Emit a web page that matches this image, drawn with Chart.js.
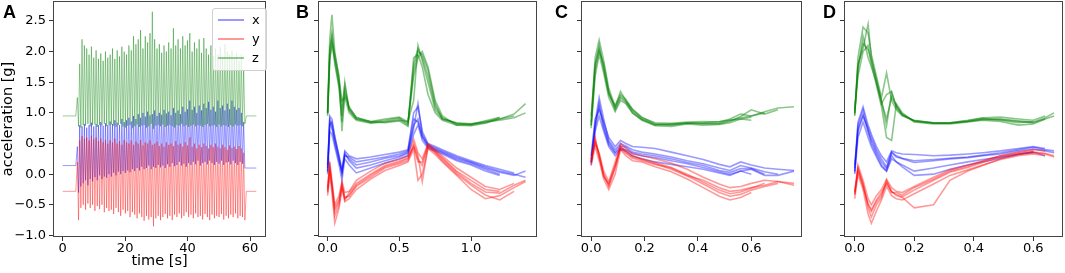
<!DOCTYPE html>
<html>
<head>
<meta charset="utf-8">
<script src="https://cdn.jsdelivr.net/npm/chart.js@4.4.1/dist/chart.umd.min.js"></script>
<style>
  html, body { margin: 0; padding: 0; background: #fff; }
  #wrap { position: relative; width: 1065px; height: 273px; overflow: hidden; }
  .pane { position: absolute; top: 0; }
  .tag { position: absolute; top: 3px; font: bold 18px/18px "Liberation Sans", Arial, sans-serif; color: #000; }
  #legendA { position: absolute; left: 212px; top: 8px; width: 53px; height: 61px; border: 1px solid #d0d0d0; border-radius: 3px; background: rgba(255,255,255,0.8); }
  .leg-row { position: absolute; left: 0; width: 100%; height: 18px; }
  .leg-line { position: absolute; left: 5px; top: 8px; width: 26px; height: 2px; }
  .leg-text { position: absolute; left: 39px; top: 0; font: 13px/18px "DejaVu Sans", sans-serif; color: #000; }
</style>
</head>
<body>
<div id="wrap">
  <canvas id="chartA" class="pane" width="270" height="273" style="left:0px"></canvas>
  <canvas id="chartB" class="pane" width="272" height="273" style="left:270px"></canvas>
  <canvas id="chartC" class="pane" width="265" height="273" style="left:542px"></canvas>
  <canvas id="chartD" class="pane" width="258" height="273" style="left:807px"></canvas>
  <div class="tag" style="left:3px">A</div>
  <div class="tag" style="left:296px">B</div>
  <div class="tag" style="left:555px">C</div>
  <div class="tag" style="left:823px">D</div>
  <div id="legendA"></div>
</div>
<script>
// ---- panel A: raw recording, one peak/trough pair per step ----
const stepStart = 4.7;
const stepPeriod = 0.75;
const seriesNames = ["x", "y", "z"];
const baseBefore = { x: 0.14, y: -0.28, z: 0.95 };
const baseAfter = { x: 0.10, y: -0.28, z: 0.95 };

const zPeak = [
  1.25, 1.8, 2.2, 2.1, 2.05, 1.95, 2.08, 1.9, 2.02, 1.88, 1.97, 1.85,
  2.0, 1.9, 1.95, 2.05, 1.88, 2.02, 1.92, 2.08, 2.0, 1.95, 2.1, 2.02,
  2.25, 2.12, 2.2, 2.35, 2.05, 2.25, 2.15, 2.3, 2.65, 2.2, 2.05, 2.12,
  1.98, 2.1, 2.0, 2.15, 2.05, 2.38, 2.1, 2.2, 2.05, 2.25, 2.1, 2.18,
  2.3, 2.0, 2.15, 2.05, 2.2, 1.98, 2.22, 2.05, 1.95, 2.1, 1.92, 2.05,
  1.95, 2.08, 1.9, 2.12, 2.0, 1.95, 2.02, 1.9, 1.98, 1.85, 1.95, 1.7
];
const zTrough = [
  0.78, 0.76, 0.8, 0.79, 0.82, 0.78, 0.8, 0.81, 0.77, 0.8, 0.79, 0.82,
  0.78, 0.8, 0.81, 0.79, 0.77, 0.8, 0.82, 0.78, 0.76, 0.79, 0.8, 0.75,
  0.78, 0.81, 0.77, 0.79, 0.8, 0.76, 0.78, 0.82, 0.74, 0.79, 0.8, 0.78,
  0.81, 0.77, 0.79, 0.8, 0.78, 0.76, 0.8, 0.79, 0.82, 0.78, 0.8, 0.77,
  0.79, 0.81, 0.78, 0.8, 0.79, 0.77, 0.8, 0.82, 0.78, 0.79, 0.8, 0.77,
  0.81, 0.78, 0.8, 0.79, 0.77, 0.8, 0.78, 0.81, 0.79, 0.8, 0.78, 0.82
];
const xPeak = [
  0.45, 0.8, 0.78, 0.82, 0.76, 0.8, 0.84, 0.78, 0.82, 0.8, 0.85, 0.79,
  0.83, 0.8, 0.86, 0.82, 0.88, 0.84, 0.8, 0.9, 0.85, 0.88, 0.92, 0.86,
  0.95, 0.9, 0.98, 0.92, 1.0, 0.94, 1.02, 0.96, 0.98, 1.04, 0.95, 1.0,
  0.97, 1.05, 0.99, 1.02, 0.96, 1.08, 1.0, 1.04, 0.98, 1.1, 1.02, 1.06,
  1.2, 1.05, 1.1, 1.0, 1.12, 1.04, 1.15, 1.08, 1.18, 1.05, 1.1, 1.02,
  1.2, 1.08, 1.12, 1.04, 1.15, 1.06, 1.2, 1.1, 1.05, 1.08, 1.0, 0.85
];
const xTrough = [
  -0.3, -0.2, -0.15, -0.1, -0.18, -0.08, -0.12, -0.05, -0.1, -0.02, -0.08, -0.04,
  -0.06, 0.0, -0.04, 0.02, -0.02, 0.04, 0.0, 0.05, 0.02, 0.06, 0.03, 0.08,
  0.05, 0.1, 0.06, 0.12, 0.08, 0.1, 0.14, 0.08, 0.12, 0.1, 0.15, 0.11,
  0.14, 0.1, 0.16, 0.12, 0.18, 0.13, 0.15, 0.2, 0.14, 0.17, 0.12, 0.18,
  0.15, 0.2, 0.16, 0.22, 0.14, 0.18, 0.2, 0.16, 0.22, 0.18, 0.15, 0.2,
  0.17, 0.22, 0.15, 0.19, 0.2, 0.16, 0.22, 0.18, 0.15, 0.2, 0.17, 0.1
];
const yPeak = [
  0.2, 0.55, 0.62, 0.58, 0.6, 0.55, 0.63, 0.57, 0.6, 0.54, 0.58, 0.52,
  0.56, 0.5, 0.55, 0.52, 0.58, 0.5, 0.54, 0.48, 0.56, 0.52, 0.5, 0.55,
  0.48, 0.53, 0.5, 0.56, 0.47, 0.52, 0.5, 0.55, 0.48, 0.5, 0.53, 0.46,
  0.5, 0.45, 0.52, 0.48, 0.5, 0.46, 0.54, 0.48, 0.5, 0.45, 0.52, 0.47,
  0.6, 0.45, 0.5, 0.42, 0.48, 0.44, 0.5, 0.46, 0.42, 0.48, 0.44, 0.5,
  0.45, 0.42, 0.48, 0.44, 0.4, 0.47, 0.43, 0.45, 0.41, 0.46, 0.42, 0.35
];
const yTrough = [
  -0.75, -0.55, -0.5, -0.58, -0.48, -0.55, -0.5, -0.6, -0.52, -0.57, -0.5, -0.62,
  -0.55, -0.6, -0.58, -0.65, -0.55, -0.62, -0.68, -0.58, -0.64, -0.6, -0.7, -0.62,
  -0.66, -0.72, -0.64, -0.7, -0.76, -0.68, -0.74, -0.7, -0.85, -0.72, -0.68, -0.75,
  -0.7, -0.65, -0.72, -0.68, -0.75, -0.66, -0.7, -0.64, -0.72, -0.68, -0.62, -0.7,
  -0.66, -0.72, -0.64, -0.7, -0.68, -0.74, -0.65, -0.7, -0.75, -0.66, -0.72, -0.68,
  -0.7, -0.65, -0.74, -0.68, -0.72, -0.66, -0.7, -0.64, -0.72, -0.68, -0.7, -0.75
];

// ---- panel B: segmented strides, shared time grid [s] ----
const tB = [0, 0.015, 0.03, 0.05, 0.08, 0.1, 0.12, 0.15, 0.2, 0.3, 0.4, 0.5, 0.56,
  0.6, 0.63, 0.66, 0.7, 0.75, 0.8, 0.9, 1.0, 1.1, 1.2, 1.3, 1.38];
const zB = [
  [1.0, 2.0, 2.3, 1.9, 1.5, 1.1, 1.45, 1.05, 0.9, 0.84, 0.86, 0.9, 0.8, 1.8, 2.05, 1.9, 1.6, 1.1, 0.92, 0.82, 0.8, 0.85, 0.88, 0.92, 1.0],
  [0.95, 1.85, 2.15, 1.95, 1.6, 0.7, 1.3, 1.1, 0.92, 0.85, 0.88, 0.92, 0.82, 1.6, 1.9, 2.0, 1.75, 1.2, 0.95, 0.8, 0.82, 0.86, 0.9, 0.95],
  [1.02, 2.2, 2.6, 2.0, 1.55, 1.2, 1.25, 1.0, 0.88, 0.83, 0.85, 0.88, 0.86, 1.2, 2.1, 1.85, 1.5, 1.05, 0.9, 0.84, 0.82, 0.84, 0.92],
  [0.98, 1.9, 2.1, 1.85, 1.45, 0.95, 1.5, 1.05, 0.9, 0.86, 0.84, 0.87, 0.78, 1.9, 1.95, 1.75, 1.3, 1.0, 0.88, 0.8, 0.79, 0.83, 0.9, 0.98, 1.15],
  [1.0, 2.05, 2.25, 1.8, 1.4, 0.85, 1.35, 1.08, 0.93, 0.86, 0.9, 0.93, 0.85, 1.7, 2.0, 1.95, 1.7, 1.15, 0.9, 0.83, 0.81, 0.87, 0.93]
];
const xB = [
  [0.03, 0.85, 0.75, 0.55, 0.25, 0.03, 0.32, 0.25, 0.15, 0.2, 0.26, 0.3, 0.36, 0.8, 0.9, 0.62, 0.46, 0.41, 0.36, 0.26, 0.19, 0.1, 0.03, -0.02, 0.05],
  [0.1, 0.95, 0.9, 0.6, 0.3, 0.08, 0.38, 0.3, 0.25, 0.28, 0.32, 0.36, 0.4, 1.0, 1.1, 0.7, 0.5, 0.45, 0.4, 0.3, 0.22, 0.14, 0.08, 0.02],
  [0.0, 0.7, 0.65, 0.45, 0.15, -0.1, 0.25, 0.15, 0.02, 0.1, 0.18, 0.25, 0.3, 0.65, 0.8, 0.55, 0.42, 0.38, 0.33, 0.22, 0.15, 0.05, -0.02],
  [0.15, 0.8, 0.85, 0.62, 0.28, 0.0, 0.35, 0.22, 0.1, 0.15, 0.22, 0.28, 0.34, 0.75, 1.15, 0.65, 0.48, 0.43, 0.38, 0.28, 0.2, 0.12, 0.05, 0.0, -0.05],
  [0.05, 0.9, 0.8, 0.5, 0.2, 0.05, 0.3, 0.28, 0.2, 0.24, 0.28, 0.33, 0.38, 0.9, 0.85, 0.6, 0.45, 0.4, 0.35, 0.24, 0.17, 0.08, 0.0]
];
const yB = [
  [-0.28, 0.1, -0.18, -0.6, -0.45, -0.18, -0.4, -0.34, -0.18, -0.02, 0.12, 0.19, 0.25, 0.46, 0.25, 0.14, 0.46, 0.36, 0.25, 0.03, -0.15, -0.29, -0.31, -0.18, -0.1],
  [-0.22, 0.2, -0.1, -0.5, -0.35, -0.12, -0.3, -0.28, -0.1, 0.05, 0.18, 0.24, 0.3, 0.57, 0.35, 0.25, 0.5, 0.4, 0.3, 0.1, -0.05, -0.2, -0.25, -0.15],
  [-0.35, 0.0, -0.3, -0.8, -0.55, -0.25, -0.45, -0.4, -0.25, -0.08, 0.06, 0.14, 0.2, 0.4, -0.1, 0.0, 0.42, 0.32, 0.2, -0.02, -0.25, -0.4, -0.35, -0.22, -0.12],
  [-0.3, 0.08, -0.2, -0.68, -0.5, -0.2, -0.38, -0.36, -0.2, -0.05, 0.1, 0.17, 0.22, 0.5, 0.3, -0.12, 0.44, 0.35, 0.22, 0.0, -0.18, -0.34, -0.42, -0.28],
  [-0.25, 0.15, -0.15, -0.55, -0.42, -0.15, -0.42, -0.3, -0.15, 0.0, 0.14, 0.21, 0.27, 0.44, 0.2, 0.2, 0.48, 0.38, 0.27, 0.05, -0.1, -0.25, -0.28]
];

// ---- panel C ----
const tC = [0, 0.015, 0.03, 0.047, 0.066, 0.09, 0.11, 0.13, 0.155, 0.19, 0.24,
  0.3, 0.36, 0.42, 0.48, 0.52, 0.56, 0.6, 0.65, 0.7, 0.76];
const zC = [
  [0.79, 1.76, 2.1, 1.7, 1.33, 1.08, 1.27, 1.19, 1.03, 0.9, 0.8, 0.81, 0.84, 0.83, 0.83, 0.88, 0.92, 0.95, 1.0],
  [0.85, 1.9, 2.19, 1.85, 1.4, 1.1, 1.35, 1.2, 1.05, 0.92, 0.84, 0.83, 0.85, 0.86, 0.85, 0.9, 0.98, 0.95, 1.02, 1.08, 1.1],
  [0.75, 1.6, 1.95, 1.65, 1.25, 1.02, 1.2, 1.15, 1.0, 0.88, 0.79, 0.78, 0.82, 0.8, 0.81, 0.84, 0.9, 0.88],
  [0.95, 1.8, 2.05, 1.75, 1.3, 1.12, 1.3, 1.22, 1.06, 0.93, 0.82, 0.8, 0.83, 0.82, 0.82, 0.86, 0.94, 1.05, 0.98, 1.05],
  [0.8, 1.7, 2.0, 1.8, 1.35, 1.05, 1.24, 1.17, 1.0, 0.89, 0.81, 0.82, 0.83, 0.84, 0.86, 0.88, 0.9, 0.93]
];
const xC = [
  [0.2, 0.79, 1.16, 0.79, 0.52, 0.36, 0.46, 0.44, 0.36, 0.33, 0.3, 0.25, 0.19, 0.14, 0.06, 0.03, 0.09, 0.09, 0.0],
  [0.3, 0.9, 1.05, 0.85, 0.6, 0.45, 0.55, 0.5, 0.45, 0.44, 0.42, 0.36, 0.3, 0.24, 0.16, 0.12, 0.2, 0.15, 0.1, 0.08, 0.06],
  [0.15, 0.7, 0.95, 0.7, 0.45, 0.3, 0.4, 0.38, 0.3, 0.25, 0.2, 0.16, 0.12, 0.08, 0.02, -0.02, 0.05, 0.0],
  [0.25, 0.85, 1.25, 0.9, 0.55, 0.4, 0.5, 0.46, 0.4, 0.36, 0.33, 0.28, 0.22, 0.17, 0.1, 0.06, 0.14, 0.1, 0.04, 0.0],
  [0.18, 0.75, 1.1, 0.75, 0.48, 0.34, 0.42, 0.4, 0.34, 0.3, 0.27, 0.22, 0.17, 0.11, 0.04, 0.0, 0.05, 0.08, -0.02, -0.02, 0.05]
];
const yC = [
  [0.2, 0.57, 0.3, -0.02, -0.18, 0.1, 0.46, 0.36, 0.28, 0.25, 0.19, 0.11, 0.0, -0.13, -0.26, -0.32, -0.29, -0.23, -0.15],
  [0.25, 0.5, 0.35, 0.05, -0.12, 0.2, 0.5, 0.42, 0.33, 0.3, 0.25, 0.18, 0.08, -0.05, -0.16, -0.22, -0.2, -0.15, -0.1, -0.12, -0.15],
  [0.14, 0.45, 0.22, -0.08, -0.25, 0.0, 0.4, 0.3, 0.22, 0.2, 0.12, 0.04, -0.08, -0.22, -0.36, -0.42, -0.38, -0.3],
  [0.18, 0.6, 0.28, 0.0, -0.2, 0.12, 0.44, 0.38, 0.3, 0.24, 0.17, 0.08, -0.03, -0.16, -0.3, -0.36, -0.33, -0.26, -0.2, -0.15],
  [0.22, 0.52, 0.32, -0.05, -0.15, 0.15, 0.42, 0.34, 0.26, 0.22, 0.16, 0.1, -0.02, -0.1, -0.22, -0.28, -0.26, -0.22, -0.18, -0.12, -0.18]
];

// ---- panel D ----
const tD = [0, 0.011, 0.028, 0.045, 0.056, 0.073, 0.09, 0.107, 0.124, 0.14, 0.16,
  0.2, 0.265, 0.32, 0.38, 0.43, 0.49, 0.55, 0.6, 0.64, 0.67];
const zD = [
  [1.0, 1.76, 2.13, 2.03, 1.85, 1.55, 1.2, 0.79, 1.33, 1.11, 0.97, 0.86, 0.83, 0.83, 0.86, 0.89, 0.89, 0.86, 0.84, 0.9, 0.95],
  [0.95, 1.9, 2.4, 2.3, 1.95, 1.6, 1.25, 1.65, 1.2, 1.05, 0.95, 0.88, 0.84, 0.84, 0.88, 0.92, 0.93, 0.9, 0.88, 0.95],
  [1.05, 1.6, 2.0, 2.1, 1.8, 1.45, 1.1, 0.6, 0.55, 1.15, 1.0, 0.85, 0.82, 0.82, 0.85, 0.88, 0.86, 0.8, 0.82, 0.9],
  [0.97, 1.7, 2.25, 1.9, 1.75, 1.5, 1.15, 1.3, 1.35, 1.08, 0.96, 0.87, 0.84, 0.83, 0.86, 0.9, 0.9, 0.87, 0.85, 0.92, 1.0],
  [1.0, 1.8, 2.05, 2.45, 1.9, 1.5, 1.18, 0.9, 1.25, 1.12, 0.98, 0.87, 0.83, 0.84, 0.87, 0.91, 0.88, 0.84, 0.86]
];
const xD = [
  [0.03, 0.74, 0.97, 0.68, 0.55, 0.36, 0.2, 0.09, 0.35, 0.28, 0.25, 0.19, 0.22, 0.25, 0.27, 0.3, 0.33, 0.38, 0.41, 0.38, 0.35],
  [0.1, 0.85, 1.1, 0.8, 0.65, 0.45, 0.3, 0.2, 0.38, 0.35, 0.33, 0.32, 0.3, 0.31, 0.33, 0.35, 0.38, 0.42, 0.45, 0.42],
  [0.0, 0.6, 0.85, 0.6, 0.45, 0.28, 0.12, 0.05, 0.3, 0.2, 0.15, 0.05, 0.1, 0.15, 0.2, 0.24, 0.28, 0.33, 0.36, 0.3],
  [0.15, 0.7, 0.95, 0.75, 0.6, 0.4, 0.25, 0.12, 0.36, 0.3, 0.26, 0.22, 0.24, 0.26, 0.28, 0.31, 0.35, 0.4, 0.44, 0.4, 0.38],
  [0.05, 0.8, 1.05, 0.72, 0.5, 0.32, 0.15, 0.05, 0.25, 0.2, 0.12, -0.02, 0.0, 0.08, 0.15, 0.2, 0.26, 0.32, 0.36]
];
const yD = [
  [-0.34, 0.09, -0.18, -0.5, -0.61, -0.45, -0.34, -0.13, -0.29, -0.33, -0.37, -0.26, -0.1, 0.03, 0.11, 0.19, 0.28, 0.33, 0.36, 0.34, 0.3],
  [-0.28, 0.15, -0.1, -0.4, -0.5, -0.35, -0.25, -0.08, -0.22, -0.28, -0.3, -0.2, -0.05, 0.07, 0.15, 0.22, 0.3, 0.36, 0.4, 0.38],
  [-0.4, 0.0, -0.25, -0.65, -0.8, -0.6, -0.42, -0.2, -0.35, -0.4, -0.42, -0.32, -0.16, -0.02, 0.07, 0.15, 0.24, 0.3, 0.33, 0.3],
  [-0.32, 0.1, -0.15, -0.55, -0.7, -0.5, -0.38, -0.1, -0.28, -0.35, -0.38, -0.55, -0.5, -0.1, 0.05, 0.14, 0.25, 0.32, 0.35, 0.33, 0.28],
  [-0.3, 0.05, -0.2, -0.48, -0.58, -0.42, -0.3, -0.15, -0.3, -0.3, -0.34, -0.22, -0.08, 0.05, 0.13, 0.21, 0.3, 0.35, 0.38]
];

const rgb = { x: "0, 0, 255", y: "255, 0, 0", z: "0, 128, 0" };
const FONT = '"DejaVu Sans", sans-serif';

function fmtMinus(v, digits) {
    const s = Math.abs(v).toFixed(digits);
    return (v < -1e-9 ? "\u2212" : "") + s;
}

function accelTrace(name, peaks, troughs) {
    const pts = [{ x: 0, y: baseBefore[name] }, { x: 4.2, y: baseBefore[name] }];
    peaks.forEach((p, i) => {
        const t = stepStart + i * stepPeriod;
        pts.push({ x: t, y: p });
        pts.push({ x: t + stepPeriod / 2, y: troughs[i] });
    });
    pts.push({ x: 58.8, y: baseAfter[name] }, { x: 62, y: baseAfter[name] });
    return pts;
}

function strideSets(grid, traces, name, alpha) {
    return traces.map((vals) => ({
        data: vals.map((v, i) => ({ x: grid[i], y: v })),
        borderColor: "rgba(" + rgb[name] + ", " + alpha + ")",
        borderWidth: 1.6,
        order: { x: 3, y: 2, z: 1 }[name],
    }));
}

// box around the plot area, like matplotlib spines
const framePlugin = {
    id: "frame",
    afterDraw(chart) {
        const { ctx, chartArea: a } = chart;
        ctx.save();
        ctx.strokeStyle = "#444";
        ctx.lineWidth = 1;
        ctx.strokeRect(a.left + 0.5, a.top + 0.5, a.right - a.left - 1, a.bottom - a.top - 1);
        ctx.restore();
    },
};

function makePanel(id, datasets, xr, yWidth, padRight, showYLabels) {
    return new Chart(document.getElementById(id), {
        type: "line",
        data: { datasets: datasets },
        options: {
            responsive: false,
            animation: false,
            events: [],
            layout: { padding: { top: 1, right: padRight, bottom: 0, left: 0 } },
            plugins: { legend: { display: false }, tooltip: { enabled: false } },
            elements: { point: { radius: 0 }, line: { tension: 0 } },
            scales: {
                x: {
                    type: "linear",
                    min: xr.min,
                    max: xr.max,
                    afterFit: (s) => {
                        s.height = 36;
                        s.paddingLeft = 0;
                        s.paddingRight = 0;
                    },
                    border: { display: false },
                    grid: { drawOnChartArea: false, tickLength: 4, color: "#333" },
                    ticks: {
                        stepSize: xr.step,
                        includeBounds: false,
                        autoSkip: false,
                        maxRotation: 0,
                        padding: 0,
                        color: "#000",
                        font: { family: FONT, size: 13 },
                        callback: (v) => xr.fmt(v),
                    },
                    title: {
                        display: !!xr.title,
                        text: xr.title || "",
                        color: "#000",
                        padding: { top: 0, bottom: 3 },
                        font: { family: FONT, size: 14.5 },
                    },
                },
                y: {
                    min: -1.025,
                    max: 2.825,
                    afterFit: (s) => {
                        s.width = yWidth;
                        s.paddingTop = 0;
                        s.paddingBottom = 0;
                    },
                    border: { display: false },
                    grid: { drawOnChartArea: false, tickLength: 4, color: "#333" },
                    ticks: {
                        display: showYLabels,
                        stepSize: 0.5,
                        includeBounds: false,
                        autoSkip: false,
                        padding: 3,
                        color: "#000",
                        font: { family: FONT, size: 13 },
                        callback: (v) => fmtMinus(v, 1),
                    },
                    title: {
                        display: showYLabels,
                        text: "acceleration [g]",
                        color: "#000",
                        padding: 0,
                        font: { family: FONT, size: 14.5 },
                    },
                },
            },
        },
        plugins: [framePlugin],
    });
}

const chartA = makePanel("chartA", [
    { label: "x", data: accelTrace("x", xPeak, xTrough), borderColor: "rgba(0, 0, 255, 0.4)", borderWidth: 1, order: 3 },
    { label: "y", data: accelTrace("y", yPeak, yTrough), borderColor: "rgba(255, 0, 0, 0.4)", borderWidth: 1, order: 2 },
    { label: "z", data: accelTrace("z", zPeak, zTrough), borderColor: "rgba(0, 128, 0, 0.4)", borderWidth: 1, order: 1 },
], { min: -3.1, max: 65.1, step: 20, fmt: (v) => String(v), title: "time [s]" }, 53, 4, true);

const dec1 = (v) => fmtMinus(v, 1);
makePanel("chartB", [].concat(strideSets(tB, xB, "x", 0.4), strideSets(tB, yB, "y", 0.4), strideSets(tB, zB, "z", 0.45)),
    { min: -0.067, max: 1.46, step: 0.5, fmt: dec1 }, 48, 5, false);
makePanel("chartC", [].concat(strideSets(tC, xC, "x", 0.4), strideSets(tC, yC, "y", 0.4), strideSets(tC, zC, "z", 0.45)),
    { min: -0.038, max: 0.79, step: 0.2, fmt: dec1 }, 39, 5, false);
makePanel("chartD", [].concat(strideSets(tD, xD, "x", 0.4), strideSets(tD, yD, "y", 0.4), strideSets(tD, zD, "z", 0.45)),
    { min: -0.036, max: 0.70, step: 0.2, fmt: dec1 }, 37, 2, false);

// html legend for panel A, built from the chart's datasets
const legend = document.getElementById("legendA");
chartA.data.datasets.forEach((ds, i) => {
    const row = document.createElement("div");
    row.className = "leg-row";
    row.style.top = (2 + i * 19) + "px";
    row.innerHTML = '<span class="leg-line" style="background:' + ds.borderColor + '"></span>' +
        '<span class="leg-text">' + seriesNames[i] + "</span>";
    legend.appendChild(row);
});
</script>
</body>
</html>
